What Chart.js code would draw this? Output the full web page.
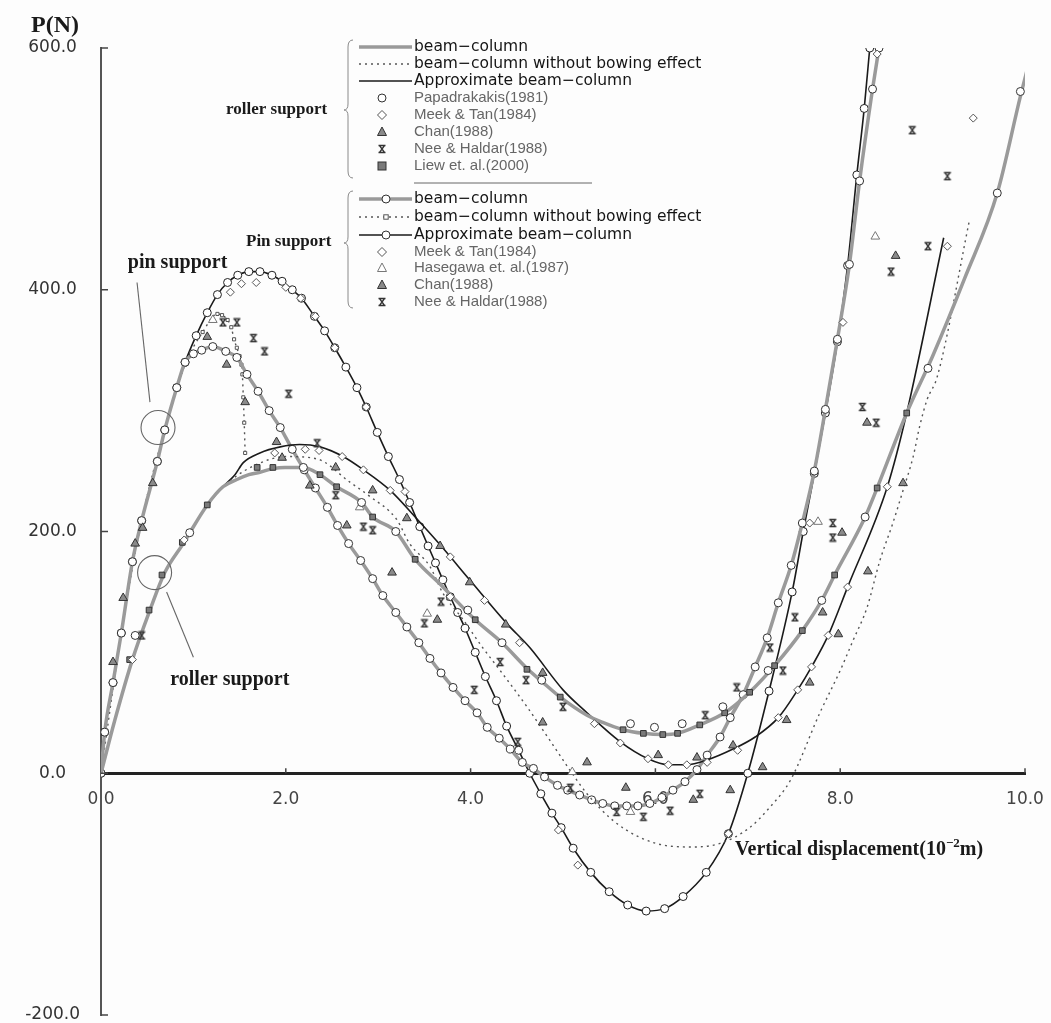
<!DOCTYPE html>
<html><head><meta charset="utf-8">
<script src="https://cdn.jsdelivr.net/npm/chart.js@4.4.1/dist/chart.umd.min.js"></script>
<style>html,body{margin:0;padding:0;background:#fdfdfd;}canvas{display:block;}</style>
</head><body>
<canvas id="c" width="1051" height="1023"></canvas>
<script>
// ---------- tick labels ----------
const xTickValues = [0, 2, 4, 6, 8, 10];
const yTickValues = [-200, 0, 200, 400, 600];

// ---------- PIN SUPPORT ----------
// Approximate beam-column (solid line with circles)
const pinApproxD = [0,0.04,0.13,0.22,0.34,0.44,0.61,0.69,0.82,0.91,1.03,1.15,1.26,1.37,1.48,1.6,1.72,1.85,1.96,2.07,2.17,2.31,2.42,2.53,2.65,2.77,2.87,2.99,3.11,3.23,3.34,3.45,3.54,3.62,3.7,3.78,3.86,3.94,4.05,4.16,4.28,4.39,4.52,4.64,4.76,4.88,4.98,5.11,5.3,5.5,5.7,5.9,6.1,6.3,6.55,6.79,7.0,7.23,7.48,7.6,7.72,7.84,7.97,8.08,8.18,8.26,8.32];
const pinApproxP = [0,34,75,116,175,209,258,284,319,340,362,381,396,406,412,415,415,412,407,400,393,378,366,352,336,319,303,282,262,243,224,204,188,174,160,146,133,120,100,80,60,39,19,0,-17,-33,-45,-62,-82,-98,-109,-114,-112,-102,-82,-50,0,68,150,200,248,298,357,420,495,550,600];
// beam-column (grey line with circles)
const pinBeamD = [0,0.04,0.13,0.22,0.34,0.44,0.61,0.69,0.82,0.91,1.0,1.09,1.21,1.35,1.47,1.58,1.7,1.82,1.94,2.07,2.2,2.32,2.45,2.56,2.68,2.81,2.94,3.05,3.19,3.31,3.44,3.56,3.68,3.81,3.94,4.07,4.18,4.31,4.43,4.56,4.68,4.8,4.94,5.05,5.18,5.31,5.43,5.56,5.69,5.81,5.94,6.07,6.19,6.32,6.45,6.56,6.7,6.81,6.95,7.08,7.21,7.33,7.47,7.59,7.72,7.84,7.97,8.1,8.21,8.35,8.42];
const pinBeamP = [0,34,75,116,175,209,258,284,319,340,347,350,353,349,344,330,316,300,286,268,251,236,220,205,190,176,161,147,133,121,108,95,83,71,60,50,38,29,20,9,4,-3,-10,-14,-18,-22,-25,-27,-27,-27,-25,-20,-14,-7,3,15,30,46,65,88,112,141,172,207,250,301,359,421,490,566,600];
// beam-column without bowing effect (dotted with small squares)
const pinNoBowD = [0,0.22,0.44,0.69,0.91,1.1,1.26,1.31,1.37,1.41,1.44,1.47,1.5,1.52,1.53,1.54,1.55,1.56];
const pinNoBowP = [0,116,209,284,338,365,380,379,375,369,359,352,345,338,330,311,290,265];
// test results (pin)
const meekPinD = [1.4,1.52,1.68,2.0,2.16,2.32,2.53,2.87,3.29,3.78,4.95,5.16,6.79,7.67,8.03,8.4];
const meekPinP = [398,405,406,402,393,378,352,303,233,146,-47,-76,-50,207,373,595];
const hasegawaD = [1.21,2.8,3.53,5.1,5.73,7.76,8.38];
const hasegawaP = [375,220,132,1,-32,208,444];
const chanPinD = [0.13,0.24,0.37,0.45,0.56,1.15,1.36,1.56,2.26,2.66,3.64,5.26,5.68,6.41,6.81,7.16,7.81,8.29,8.6];
const chanPinP = [92,145,190,203,240,361,338,307,238,205,127,9,-12,-22,-14,5,133,290,428];
const neePinD = [1.32,1.47,1.65,1.77,2.03,5.08,5.58,5.87,6.16,6.48,7.92,7.92,8.24,8.39,8.55,8.78,8.95,9.16];
const neePinP = [373,373,360,349,314,-12,-32,-36,-31,-17,207,195,303,290,415,532,436,494];

// ---------- ROLLER SUPPORT ----------
const rollerBeamD = [0,0.15,0.34,0.53,0.69,0.89,1.15,1.32,1.47,1.6,1.72,1.86,1.99,2.19,2.37,2.55,2.82,2.94,3.19,3.4,3.69,4.05,4.34,4.62,4.77,4.97,5.26,5.43,5.65,5.87,6.08,6.24,6.48,6.75,7.02,7.29,7.59,7.8,7.94,8.27,8.4,8.72,9.0,9.35,9.7,9.95,10.05];
const rollerBeamP = [0,44,94,135,166,190,222,237,243,247,249,252,253,253,247,237,224,212,200,177,155,127,108,86,76,63,48,42,36,33,32,33,40,50,67,89,118,143,164,212,236,298,345,410,480,560,590];
const rollerNoBowD = [0,0.15,0.34,0.53,0.69,0.89,1.15,1.4,1.7,2.0,2.34,2.69,2.91,3.2,3.34,3.56,3.7,3.92,4.13,4.32,4.61,4.86,5.08,5.26,5.54,5.83,6.13,6.41,6.7,7.02,7.24,7.46,7.78,8.0,8.14,8.29,8.43,8.57,8.68,8.79,8.86,8.94,9.05,9.4];
const rollerNoBowP = [0,44,94,135,166,190,222,242,256,262,260,241,229,210,190,171,149,127,104,85,55,27,2,-17,-39,-53,-60,-61,-58,-45,-28,-6,50,85,110,137,176,207,234,262,287,309,328,458];
const rollerApproxD = [0,0.15,0.34,0.53,0.69,0.89,1.15,1.32,1.45,1.54,1.72,1.94,2.15,2.37,2.62,2.84,3.13,3.4,3.67,3.99,4.39,4.64,5.0,5.26,5.62,5.92,6.14,6.34,6.56,6.84,7.08,7.33,7.54,7.69,7.87,8.08,8.51,8.72,9.12];
const rollerApproxP = [0,44,94,135,166,190,222,237,247,257,265,270,272,270,262,251,234,212,189,160,124,104,69,50,26,12,7,7,11,20,30,46,69,88,114,154,237,298,443];
const papaD = [0.37,0.96,2.19,2.82,3.19,3.97,4.34,4.77,5.73,5.99,6.29,6.73,7.22,7.8,8.27,8.95,9.7,9.95];
const papaP = [114,199,253,224,200,135,108,77,41,38,41,55,85,143,212,335,480,564];
const meekRollerD = [0.34,0.9,1.88,2.21,2.36,2.61,2.84,3.13,3.78,4.15,4.53,5.34,5.62,5.92,6.14,6.34,6.56,6.89,7.33,7.54,7.69,7.87,8.08,8.51,9.16,9.44];
const meekRollerP = [94,193,265,268,267,262,251,234,179,143,108,41,25,12,7,7,9,19,46,69,88,114,154,237,436,542];
const chanRollerD = [1.9,1.96,2.54,2.94,3.15,3.31,3.67,3.99,4.38,4.78,4.78,6.03,6.45,6.84,7.42,7.67,7.98,8.02,8.3,8.68];
const chanRollerP = [274,261,253,234,166,211,188,158,123,83,42,15,13,23,44,75,115,199,167,240];
const neeRollerD = [0.44,2.34,2.54,2.84,2.94,3.5,3.68,4.04,4.32,4.51,4.6,5.0,6.54,6.88,7.24,7.38,7.51];
const neeRollerP = [114,273,230,204,201,124,142,69,92,26,77,55,48,71,104,85,129];
const liewD = [0.31,0.52,0.66,0.88,1.15,1.69,1.86,2.37,2.55,2.94,3.4,4.05,4.61,4.97,5.65,5.87,6.08,6.24,6.48,6.75,7.02,7.29,7.59,7.94,8.4,8.72];
const liewP = [94,135,164,191,222,253,253,247,237,212,177,127,86,63,36,33,32,33,40,50,67,89,118,164,236,298];

// ---------- legend texts ----------
const rollerLegendLabels = ['beam\u2212column','beam\u2212column without bowing effect','Approximate beam\u2212column','Papadrakakis(1981)','Meek & Tan(1984)','Chan(1988)','Nee & Haldar(1988)','Liew et. al.(2000)'];
const pinLegendLabels = ['beam\u2212column','beam\u2212column without bowing effect','Approximate beam\u2212column','Meek & Tan(1984)','Hasegawa et. al.(1987)','Chan(1988)','Nee & Haldar(1988)'];

// ---------- helpers ----------
const pts = (xs, ys) => xs.map((x, i) => ({x, y: ys[i]}));
function neeSymbol() {
  const c = document.createElement('canvas'); c.width = 10; c.height = 10;
  const g = c.getContext('2d'); g.strokeStyle = '#333'; g.lineWidth = 1.3; g.beginPath();
  g.moveTo(1.5,1.5); g.lineTo(8.5,1.5); g.moveTo(1.5,8.5); g.lineTo(8.5,8.5);
  g.moveTo(2.5,1.5); g.lineTo(7.5,8.5); g.moveTo(7.5,1.5); g.lineTo(2.5,8.5); g.stroke();
  return c;
}
const NEE = neeSymbol();
const GREY = '#9a9a9a';

function lineDS(label, xs, ys, o) {
  return Object.assign({label, data: pts(xs, ys), showLine: true, fill: false, pointRadius: 0,
    cubicInterpolationMode: 'monotone', order: 10, pointHoverRadius: 0}, o);
}
function markDS(label, xs, ys, o) {
  return Object.assign({label, data: pts(xs, ys), showLine: false, order: 1, pointRadius: 4, pointBorderWidth: 1}, o);
}

const datasets = [
  lineDS('Roller beam-column', rollerBeamD, rollerBeamP, {borderColor: GREY, borderWidth: 3.5}),
  lineDS('Roller without bowing', rollerNoBowD, rollerNoBowP, {borderColor: '#555', borderWidth: 1.4, borderDash: [2, 4]}),
  lineDS('Roller approximate', rollerApproxD, rollerApproxP, {borderColor: '#1a1a1a', borderWidth: 1.6}),
  lineDS('Pin beam-column', pinBeamD, pinBeamP, {borderColor: GREY, borderWidth: 3.5, pointRadius: 4, pointStyle: 'circle', pointBackgroundColor: '#fff', pointBorderColor: '#333', pointBorderWidth: 1}),
  lineDS('Pin without bowing', pinNoBowD, pinNoBowP, {borderColor: '#555', borderWidth: 1.4, borderDash: [2, 4], pointRadius: 2.2, pointStyle: 'rect', pointBackgroundColor: '#fff', pointBorderColor: '#555', pointBorderWidth: 1}),
  lineDS('Pin approximate', pinApproxD, pinApproxP, {borderColor: '#1a1a1a', borderWidth: 1.6, pointRadius: 4, pointStyle: 'circle', pointBackgroundColor: '#fff', pointBorderColor: '#222', pointBorderWidth: 1}),
  markDS('Papadrakakis(1981)', papaD, papaP, {pointStyle: 'circle', backgroundColor: '#fff', borderColor: '#333'}),
  markDS('Meek & Tan(1984) roller', meekRollerD, meekRollerP, {pointStyle: 'rectRot', backgroundColor: '#fff', borderColor: '#555'}),
  markDS('Chan(1988) roller', chanRollerD, chanRollerP, {pointStyle: 'triangle', pointRadius: 5, backgroundColor: '#8a8a8a', borderColor: '#333'}),
  markDS('Nee & Haldar(1988) roller', neeRollerD, neeRollerP, {pointStyle: NEE}),
  markDS('Liew et. al.(2000)', liewD, liewP, {pointStyle: 'rect', backgroundColor: '#7a7a7a', borderColor: '#333'}),
  markDS('Meek & Tan(1984) pin', meekPinD, meekPinP, {pointStyle: 'rectRot', backgroundColor: '#fff', borderColor: '#555'}),
  markDS('Hasegawa et. al.(1987)', hasegawaD, hasegawaP, {pointStyle: 'triangle', pointRadius: 5, backgroundColor: '#fff', borderColor: '#777'}),
  markDS('Chan(1988) pin', chanPinD, chanPinP, {pointStyle: 'triangle', pointRadius: 5, backgroundColor: '#8a8a8a', borderColor: '#333'}),
  markDS('Nee & Haldar(1988) pin', neePinD, neePinP, {pointStyle: NEE})
];

// ---------- drawing helpers for legend ----------
function drawMarker(g, type, x, y) {
  g.save(); g.lineWidth = 1; g.setLineDash([]);
  if (type === 'circle') { g.beginPath(); g.arc(x, y, 4, 0, Math.PI*2); g.fillStyle = '#fff'; g.fill(); g.strokeStyle = '#333'; g.stroke(); }
  else if (type === 'smallsq') { g.fillStyle = '#fff'; g.fillRect(x-2.2, y-2.2, 4.4, 4.4); g.strokeStyle = '#555'; g.strokeRect(x-2.2, y-2.2, 4.4, 4.4); }
  else if (type === 'diamond') { g.beginPath(); g.moveTo(x, y-4.5); g.lineTo(x+4.5, y); g.lineTo(x, y+4.5); g.lineTo(x-4.5, y); g.closePath(); g.fillStyle = '#fff'; g.fill(); g.strokeStyle = '#555'; g.stroke(); }
  else if (type === 'tri' || type === 'otri') { g.beginPath(); g.moveTo(x, y-5); g.lineTo(x+4.5, y+3.5); g.lineTo(x-4.5, y+3.5); g.closePath(); g.fillStyle = type === 'tri' ? '#8a8a8a' : '#fff'; g.fill(); g.strokeStyle = type === 'tri' ? '#333' : '#777'; g.stroke(); }
  else if (type === 'nee') { g.drawImage(NEE, x-5, y-5); }
  else if (type === 'sq') { g.fillStyle = '#7a7a7a'; g.fillRect(x-4, y-4, 8, 8); g.strokeStyle = '#333'; g.strokeRect(x-4, y-4, 8, 8); }
  g.restore();
}
function drawSample(g, kind, x1, x2, y) {
  g.save(); g.beginPath(); g.moveTo(x1, y); g.lineTo(x2, y);
  if (kind === 'grey') { g.strokeStyle = GREY; g.lineWidth = 3.5; }
  else if (kind === 'dot') { g.strokeStyle = '#555'; g.lineWidth = 1.4; g.setLineDash([2, 4]); }
  else { g.strokeStyle = '#1a1a1a'; g.lineWidth = 1.6; }
  g.stroke(); g.restore();
}
function brace(g, x, y1, y2, ym) {
  g.save(); g.strokeStyle = '#8a8a8a'; g.lineWidth = 1; g.beginPath();
  g.moveTo(x+5, y1); g.quadraticCurveTo(x, y1, x, y1+7); g.lineTo(x, ym-6);
  g.quadraticCurveTo(x, ym, x-4, ym); g.quadraticCurveTo(x, ym, x, ym+6);
  g.lineTo(x, y2-7); g.quadraticCurveTo(x, y2, x+5, y2); g.stroke(); g.restore();
}

const decor = {
  id: 'decor',
  beforeDraw(chart) {
    const g = chart.ctx; g.save(); g.fillStyle = '#fdfdfd'; g.fillRect(0, 0, chart.width, chart.height); g.restore();
  },
  afterDraw(chart) {
    const g = chart.ctx, xs = chart.scales.x, ys = chart.scales.y;
    const X = v => xs.getPixelForValue(v), Y = v => ys.getPixelForValue(v);
    g.save();
    // inward tick marks
    g.strokeStyle = '#444'; g.lineWidth = 1.5;
    yTickValues.forEach(v => { g.beginPath(); g.moveTo(X(0), Y(v)); g.lineTo(X(0) + 7, Y(v)); g.stroke(); });
    xTickValues.slice(1).forEach(v => { g.beginPath(); g.moveTo(X(v), Y(0)); g.lineTo(X(v), Y(0) - 5); g.stroke(); });

    // titles
    g.fillStyle = '#1a1a1a'; g.textBaseline = 'alphabetic';
    g.font = 'bold 24px "Liberation Serif"'; g.fillText('P(N)', 31, 32);
    g.font = 'bold 20px "Liberation Serif"';
    let tx = 735, ty = 855; const t1 = 'Vertical displacement(10';
    g.fillText(t1, tx, ty); tx += g.measureText(t1).width;
    g.font = 'bold 13px "Liberation Serif"'; g.fillText('\u22122', tx, ty - 8); tx += g.measureText('\u22122').width;
    g.font = 'bold 20px "Liberation Serif"'; g.fillText('m)', tx, ty);

    // annotations
    g.font = 'bold 20px "Liberation Serif"'; g.textBaseline = 'middle';
    g.fillText('pin support', X(0.29), Y(422));
    g.fillText('roller support', X(0.75), Y(77));
    g.strokeStyle = '#666'; g.lineWidth = 1.1;
    g.beginPath(); g.arc(X(0.617), Y(286), 17, 0, Math.PI*2); g.stroke();
    g.beginPath(); g.arc(X(0.58), Y(166), 17, 0, Math.PI*2); g.stroke();
    g.beginPath(); g.moveTo(X(0.39), Y(406)); g.lineTo(X(0.53), Y(307)); g.stroke();
    g.beginPath(); g.moveTo(X(1.0), Y(96)); g.lineTo(X(0.71), Y(150)); g.stroke();

    // legends
    const kindsR = ['grey', 'dot', 'solid', 'circle', 'diamond', 'tri', 'nee', 'sq'];
    const rowsR = [47, 64, 81, 98, 115, 132, 149, 166];
    const kindsP = ['greyC', 'dotS', 'solidC', 'diamond', 'otri', 'tri', 'nee'];
    const rowsP = [199, 217, 235, 252, 268, 285, 302];
    const drawRow = (kind, label, y, i) => {
      if (kind === 'grey' || kind === 'dot' || kind === 'solid') drawSample(g, kind, 359, 412, y);
      else if (kind === 'greyC') { drawSample(g, 'grey', 359, 412, y); drawMarker(g, 'circle', 386, y); }
      else if (kind === 'dotS') { drawSample(g, 'dot', 359, 412, y); drawMarker(g, 'smallsq', 386, y); }
      else if (kind === 'solidC') { drawSample(g, 'solid', 359, 412, y); drawMarker(g, 'circle', 386, y); }
      else drawMarker(g, kind, 382, y);
      g.textBaseline = 'middle';
      if (i < 3) { g.font = '15.5px "DejaVu Sans"'; g.fillStyle = '#151515'; }
      else { g.font = '15px "Liberation Sans"'; g.fillStyle = '#666'; }
      g.fillText(label, 414, y);
    };
    rollerLegendLabels.forEach((l, i) => drawRow(kindsR[i], l, rowsR[i], i));
    pinLegendLabels.forEach((l, i) => drawRow(kindsP[i], l, rowsP[i], i));
    brace(g, 348, 40, 178, 110);
    brace(g, 348, 191, 308, 243);
    g.strokeStyle = '#666'; g.lineWidth = 1; g.beginPath(); g.moveTo(414, 183); g.lineTo(592, 183); g.stroke();
    g.fillStyle = '#1a1a1a'; g.font = 'bold 17px "Liberation Serif"'; g.textBaseline = 'middle';
    g.fillText('roller support', 226, 110);
    g.fillText('Pin support', 246, 242);
    g.restore();
  }
};

new Chart(document.getElementById('c'), {
  type: 'scatter',
  data: {datasets},
  options: {
    responsive: false, animation: false, devicePixelRatio: 1,
    layout: {padding: {top: 48, right: 26, bottom: 8, left: 0}},
    plugins: {legend: {display: false}, tooltip: {enabled: false}},
    scales: {
      x: {
        type: 'linear', min: 0, max: 10, position: {y: 0},
        afterBuildTicks: s => { s.ticks = xTickValues.map(v => ({value: v})); },
        afterFit: s => { s.height = 0; s.paddingLeft = 0; s.paddingRight = 0; },
        ticks: {callback: v => Number(v).toFixed(1), font: {family: 'DejaVu Sans', size: 17}, color: '#444', padding: 16, maxRotation: 0, autoSkip: false},
        grid: {display: false, drawTicks: false},
        border: {display: true, color: '#222', width: 3}
      },
      y: {
        type: 'linear', min: -200, max: 600,
        afterBuildTicks: s => { s.ticks = yTickValues.map(v => ({value: v})); },
        afterFit: s => { s.width = 101; s.paddingTop = 0; s.paddingBottom = 0; },
        ticks: {callback: v => Number(v).toFixed(1), font: {family: 'DejaVu Sans', size: 17}, color: '#333', crossAlign: 'center', padding: 21},
        grid: {display: false, drawTicks: false},
        border: {display: true, color: '#555', width: 2}
      }
    }
  },
  plugins: [decor]
});
</script>
</body></html>
